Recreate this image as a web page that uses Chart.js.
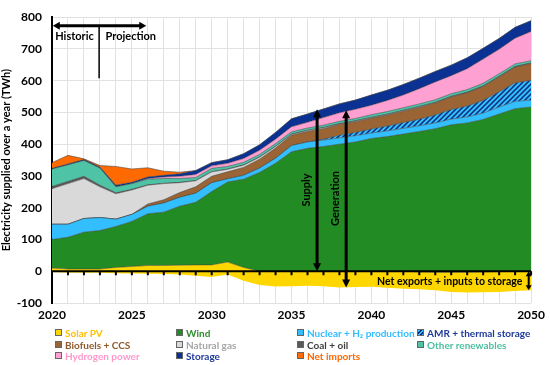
<!DOCTYPE html>
<html>
<head>
<meta charset="utf-8">
<script src="https://cdn.jsdelivr.net/npm/chart.js@4.4.1/dist/chart.umd.min.js"></script>
<style>
  body { margin: 0; background: #fff; }
  #wrap { position: relative; width: 550px; height: 365px; }
  #legend { position: absolute; left: 0; top: 0; width: 550px; height: 365px; pointer-events: none;
            font: bold 10px Lato, sans-serif; }
  .item { position: absolute; white-space: nowrap; line-height: 12px; }
  .box { display: inline-block; width: 5px; height: 5px; border: 1px solid #666; margin-right: 3px; vertical-align: 1px; }
</style>
</head>
<body>
<div id="wrap">
  <canvas id="chart" width="550" height="365"></canvas>
  <div id="legend"></div>
</div>
<script>
const years = [2020,2021,2022,2023,2024,2025,2026,2027,2028,2029,2030,2031,2032,2033,2034,2035,
               2036,2037,2038,2039,2040,2041,2042,2043,2044,2045,2046,2047,2048,2049,2050];

// net exports + inputs to storage (negative, the stack starts here)
const exportsStorage = [-2,-5,-5,-5,-6,-7,-8,-9,-10,-14,-18,-10,-30,-43,-48,-47,
                        -46,-47,-51,-50,-49,-52,-55,-57,-60,-65,-67,-66,-65,-62,-60];
const solar    = [12,12,12,12,18,22,26,27,29,34,38,39,42,43,48,47,46,47,51,50,49,52,55,55,57,62,64,64,64,62,60];
const wind     = [90,100,116,121,129,142,163,168,186,197,231,252,278,311,340,376,387,393,400,407,418,424,432,442,452,464,470,480,496,512,517];
const nuclear  = [48,41,43,41,23,22,24,29,28,29,28,10,12,14,16,20,20,20,20,20,17,18,18,18,18,18,19,20,22,23,22];
const amr      = [0,0,0,0,0,0,0,0,0,0,0,0,0,0,0,0,0,3,8,10,13,15,18,21,25,30,34,40,48,58,62];
const biofuels = [0,0,0,0,0,0,7,10,15,20,20,22,25,28,32,32,33,33,34,34,34,35,36,37,38,40,42,44,47,50,53];
const gas      = [112,128,126,97,80,77,59,51,31,19,14,8,7,6,5,3,3,3,2,2,2,2,2,2,1,1,1,1,1,1,1];
const coal     = [7,7,7,5,3,2,1,1,1,1,1,1,1,1,1,1,1,1,1,1,1,1,1,1,1,1,1,1,1,1,1];
const otherRen = [55,52,50,54,19,18,18,15,12,9,10,8,8,8,8,7,7,7,7,7,8,8,8,8,8,8,8,8,8,8,7];
const hydrogen = [0,0,0,0,0,0,2,5,7,10,8,10,12,13,14,16,18,24,27,29,30,35,40,48,56,57,66,76,77,81,92];
const storage  = [2,3,3,3,5,4,5,5,8,12,10,11,15,17,21,25,26,27,28,29,32,32,33,33,33,33,34,34,34,34,34];
const imports  = [18,27,2,5,59,42,29,13,5,0,0,0,0,0,0,0,0,0,0,0,0,0,0,0,0,0,0,0,0,0,0];

const names = ['Solar PV','Wind','Nuclear + H\u2082 production','AMR + thermal storage',
               'Biofuels + CCS','Natural gas','Coal + oil','Other renewables',
               'Hydrogen power','Storage','Net imports'];
const fills = ['#ffd700','#238b23','#33bfff',null,'#9b6434','#d9d9d9','#595959','#4fc3a6',
               '#ffa0d2','#0b3192','#ff6a00'];
const textColors = ['#ffc000','#2e8b2e','#33bbff','#1f3a9a','#8d5a2c','#a6a6a6','#404040','#4dbf9f',
                    '#ff99cc','#1f3a9a','#ff6600'];
const series = [solar, wind, nuclear, amr, biofuels, gas, coal, otherRen, hydrogen, storage, imports];

const FONT = 'Lato, sans-serif';

function hatch(ctx) {
  const c = document.createElement('canvas');
  c.width = 5; c.height = 5;
  const g = c.getContext('2d');
  g.fillStyle = '#33bfff';
  g.fillRect(0, 0, 5, 5);
  g.strokeStyle = '#0c2a78';
  g.lineWidth = 1.5;
  g.beginPath();
  g.moveTo(-1, 6); g.lineTo(6, -1);
  g.moveTo(-3, 3); g.lineTo(3, -3);
  g.moveTo(2, 8); g.lineTo(8, 2);
  g.stroke();
  return ctx.createPattern(c, 'repeat');
}

function drawArrow(ctx, x1, y1, x2, y2, lw, hl, hw, both) {
  const ang = Math.atan2(y2 - y1, x2 - x1);
  const cos = Math.cos(ang), sin = Math.sin(ang);
  ctx.lineWidth = lw;
  ctx.beginPath();
  ctx.moveTo(both ? x1 + cos * hl * 0.8 : x1, both ? y1 + sin * hl * 0.8 : y1);
  ctx.lineTo(x2 - cos * hl * 0.8, y2 - sin * hl * 0.8);
  ctx.stroke();
  const head = (x, y, a) => {
    const c = Math.cos(a), s = Math.sin(a);
    ctx.beginPath();
    ctx.moveTo(x, y);
    ctx.lineTo(x - c * hl - s * hw, y - s * hl + c * hw);
    ctx.lineTo(x - c * hl + s * hw, y - s * hl - c * hw);
    ctx.closePath();
    ctx.fill();
  };
  head(x2, y2, ang);
  if (both) head(x1, y1, ang + Math.PI);
}

const annotations = {
  id: 'annotations',
  afterDatasetsDraw(chart) {
    const { ctx, chartArea: a, scales: { x, y } } = chart;
    const X = v => x.getPixelForValue(v), Y = v => y.getPixelForValue(v);
    ctx.save();
    ctx.strokeStyle = '#000';
    ctx.fillStyle = '#000';

    // zero line with year ticks
    ctx.lineWidth = 2;
    ctx.beginPath();
    ctx.moveTo(a.left, Y(0)); ctx.lineTo(a.right, Y(0));
    years.forEach(yr => { ctx.moveTo(X(yr), Y(0)); ctx.lineTo(X(yr), Y(0) + 4); });
    ctx.stroke();

    // historic / projection
    drawArrow(ctx, X(2020.05), Y(773), X(2025.9), Y(773), 3, 7, 4, true);
    ctx.lineWidth = 1.5;
    ctx.beginPath();
    ctx.moveTo(X(2022.95), Y(773)); ctx.lineTo(X(2022.95), Y(608));
    ctx.stroke();
    ctx.font = 'bold 11px ' + FONT;
    ctx.textBaseline = 'middle';
    ctx.textAlign = 'left';
    ctx.fillText('Historic', X(2020.2), Y(738));
    ctx.fillText('Projection', X(2023.35), Y(738));

    // supply / generation
    drawArrow(ctx, X(2036.6), Y(0), X(2036.6), Y(510), 3, 8, 4, true);
    drawArrow(ctx, X(2038.42), Y(-51), X(2038.42), Y(507), 3, 8, 4, true);
    ctx.textAlign = 'center';
    [['Supply', 2035.96, 256], ['Generation', 2037.75, 229]].forEach(([t, xv, yv]) => {
      ctx.save();
      ctx.translate(X(xv), Y(yv));
      ctx.rotate(-Math.PI / 2);
      ctx.fillText(t, 0, 0);
      ctx.restore();
    });

    // net exports label
    ctx.font = 'bold 10.5px ' + FONT;
    ctx.textAlign = 'right';
    ctx.fillText('Net exports + inputs to storage', X(2049.45), Y(-34));
    drawArrow(ctx, X(2049.85), Y(0), X(2049.85), Y(-60), 2, 5, 3, true);
    ctx.restore();
  }
};

const ctx = document.getElementById('chart').getContext('2d');
const toPoints = arr => years.map((yr, i) => ({ x: yr, y: arr[i] }));

const datasets = [{
  label: 'base',
  data: toPoints(exportsStorage),
  borderWidth: 0,
  pointRadius: 0,
  fill: false
}];
series.forEach((s, i) => {
  datasets.push({
    label: names[i],
    data: toPoints(s),
    backgroundColor: fills[i] || hatch(ctx),
    borderColor: 'rgba(60,60,60,0.75)',
    borderWidth: 0.7,
    pointRadius: 0,
    fill: '-1'
  });
});

new Chart(ctx, {
  type: 'line',
  data: { datasets },
  options: {
    responsive: false,
    animation: false,
    layout: { padding: { top: 8, right: 16, left: 0, bottom: 0 } },
    plugins: { legend: { display: false }, tooltip: { enabled: false } },
    elements: { line: { tension: 0 }, point: { radius: 0 } },
    scales: {
      x: {
        type: 'linear', min: 2020, max: 2050,
        ticks: {
          stepSize: 1, autoSkip: false, maxRotation: 0, padding: 5, color: '#000',
          font: { family: FONT, weight: 'bold', size: 12 },
          callback: v => v % 5 === 0 ? String(v) : ''
        },
        grid: { color: '#e2e2e2', drawTicks: false },
        border: { display: false },
        afterFit: s => { s.height = 62; }
      },
      y: {
        stacked: 'single', min: -100, max: 800,
        ticks: {
          stepSize: 50, padding: 10, color: '#000',
          font: { family: FONT, weight: 'bold', size: 12 },
          callback: v => v % 100 === 0 ? String(v) : ''
        },
        grid: { color: '#e2e2e2', drawTicks: false },
        border: { color: '#000', width: 2 },
        title: {
          display: true, text: 'Electricity supplied over a year (TWh)', color: '#000',
          font: { family: FONT, weight: 'bold', size: 11 }, padding: 0
        },
        afterFit: s => { s.width = 52; }
      }
    }
  },
  plugins: [annotations]
});

// legend, 4 columns
const legend = document.getElementById('legend');
const colX = [55, 176, 297, 417];
const rowY = [327, 338.5, 350];
names.forEach((n, i) => {
  const el = document.createElement('div');
  el.className = 'item';
  el.style.left = colX[i % 4] + 'px';
  el.style.top = rowY[Math.floor(i / 4)] + 'px';
  el.style.color = textColors[i];
  const box = document.createElement('span');
  box.className = 'box';
  box.style.background = fills[i] ||
    'repeating-linear-gradient(135deg, #33bfff 0 1.5px, #0c2a78 1.5px 3px)';
  el.appendChild(box);
  el.appendChild(document.createTextNode(n));
  legend.appendChild(el);
});
</script>
</body>
</html>
